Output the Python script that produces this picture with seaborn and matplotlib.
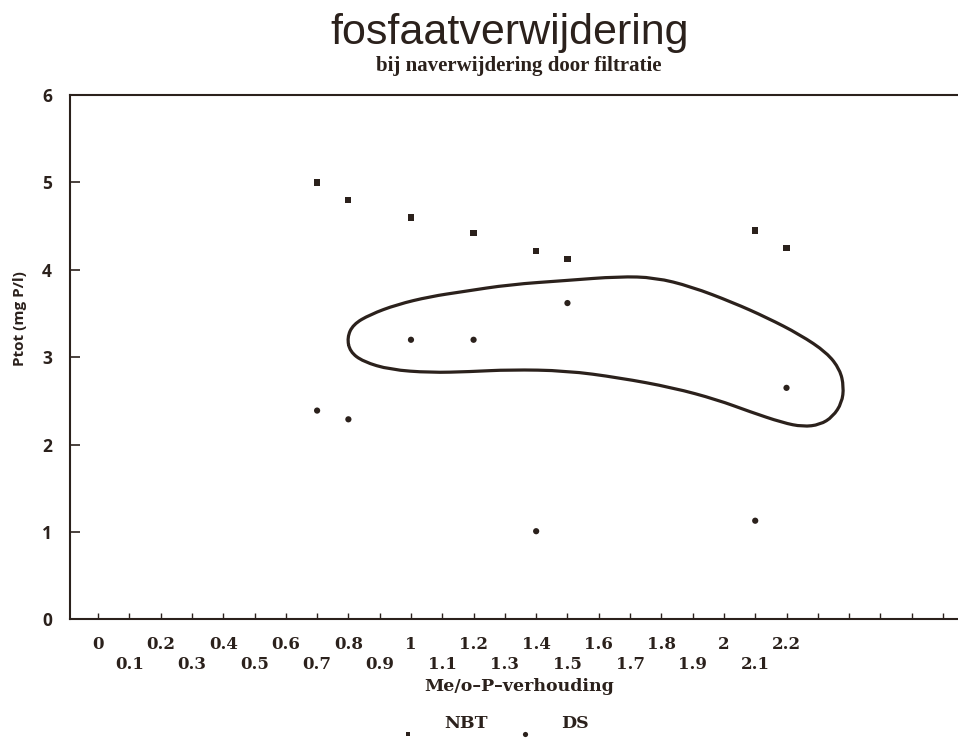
import numpy as np
import pandas as pd
import matplotlib
matplotlib.use("Agg")
import matplotlib.pyplot as plt
from matplotlib.path import Path
from matplotlib.patches import PathPatch
from matplotlib.collections import PathCollection
from matplotlib.legend_handler import HandlerPathCollection
import seaborn as sns

# Me/o-P ratio against total phosphorus after filtration
nbt_ratio = [0.7, 0.8, 1.0, 1.2, 1.4, 1.5, 2.1, 2.2]
nbt_ptot = [5.0, 4.8, 4.6, 4.42, 4.22, 4.12, 4.45, 4.25]

ds_ratio = [0.7, 0.8, 1.0, 1.2, 1.5, 2.2, 1.4, 2.1]
ds_ptot = [2.39, 2.29, 3.2, 3.2, 3.62, 2.65, 1.01, 1.13]

# hand-drawn outline around the DS cluster
outline_ratio = [0.796, 0.815, 0.869, 0.955, 1.061, 1.166, 1.316, 1.495, 1.665,
                 1.780, 1.895, 2.029, 2.137, 2.243, 2.329, 2.371, 2.383, 2.377,
                 2.348, 2.307, 2.252, 2.188, 2.083, 1.978, 1.837, 1.665, 1.495,
                 1.316, 1.188, 1.061, 0.933, 0.847, 0.805]
outline_ptot = [3.225, 3.375, 3.488, 3.603, 3.694, 3.751, 3.832, 3.878, 3.924,
                3.912, 3.809, 3.626, 3.454, 3.259, 3.053, 2.858, 2.663, 2.480,
                2.320, 2.228, 2.205, 2.251, 2.377, 2.515, 2.652, 2.766, 2.847,
                2.858, 2.835, 2.824, 2.858, 2.950, 3.064]

x_ticks = [0.0, 0.1, 0.2, 0.3, 0.4, 0.5, 0.6, 0.7, 0.8, 0.9, 1.0, 1.1, 1.2, 1.3,
           1.4, 1.5, 1.6, 1.7, 1.8, 1.9, 2.0, 2.1, 2.2, 2.3, 2.4, 2.5, 2.6, 2.7]
x_tick_labels = ["0", "\n0.1", "0.2", "\n0.3", "0.4", "\n0.5", "0.6", "\n0.7",
                 "0.8", "\n0.9", "1", "\n1.1", "1.2", "\n1.3", "1.4", "\n1.5",
                 "1.6", "\n1.7", "1.8", "\n1.9", "2", "\n2.1", "2.2",
                 "", "", "", "", ""]
y_ticks = [0, 1, 2, 3, 4, 5, 6]
y_tick_labels = ["0", "1", "2", "3", "4", "5", "6"]

series_names = ["NBT", "DS"]

ink = "#2b211c"

sns.set_style("white")
plt.rcParams["font.family"] = ["DejaVu Serif", "DejaVu Sans"]

df = pd.DataFrame({
    "ratio": nbt_ratio + ds_ratio,
    "ptot": nbt_ptot + ds_ptot,
    "serie": [series_names[0]] * len(nbt_ratio) + [series_names[1]] * len(ds_ratio),
})

fig = plt.figure(figsize=(9.58, 7.47), dpi=100, facecolor="white")
ax = fig.add_axes([0.0731, 0.1707, 0.9269, 0.7021])

sns.scatterplot(data=df, x="ratio", y="ptot", style="serie",
                markers={"NBT": "s", "DS": "o"}, color=ink, s=20,
                linewidth=0, legend=False, ax=ax)

# smooth closed outline (quadratic segments through the midpoints)
pts = np.column_stack([outline_ratio, outline_ptot])
mids = (pts + np.roll(pts, -1, axis=0)) / 2
verts = [mids[-1]]
codes = [Path.MOVETO]
for p, m in zip(pts, mids):
    verts += [p, m]
    codes += [Path.CURVE3, Path.CURVE3]
ax.add_patch(PathPatch(Path(verts, codes), fill=False, lw=2.3,
                       ec=ink, capstyle="round", joinstyle="round"))

ax.set_xlim(-0.0895, 2.748)
ax.set_ylim(0, 6)

for side in ["left", "top", "bottom"]:
    ax.spines[side].set_color(ink)
    ax.spines[side].set_linewidth(1.5)
ax.spines["right"].set_visible(False)

ax.set_xticks(x_ticks, x_tick_labels)
ax.set_yticks(y_ticks, y_tick_labels)
ax.tick_params(axis="x", direction="in", length=4, width=1.0, color=ink,
               pad=12, labelcolor=ink, bottom=True)
ax.tick_params(axis="y", direction="in", length=7, width=1.2, color=ink,
               pad=13, labelcolor=ink, left=True)
for lab in ax.get_yticklabels():
    lab.set_fontfamily("Open Sans")
    lab.set_fontweight("bold")
    lab.set_fontsize(12.5)
for lab in ax.get_xticklabels():
    lab.set_fontweight("bold")
    lab.set_fontsize(12)
    lab.set_linespacing(1.2)

ax.set_xlabel("Me/o–P–verhouding", fontsize=12.5, color=ink, fontweight="bold")
ax.xaxis.set_label_coords(0.5056, -0.112)
ax.set_ylabel("Ptot (mg P/l)", fontsize=11, color=ink,
              family="Open Sans", fontweight="bold")
ax.yaxis.set_label_coords(-0.049, 0.573)

fig.text(0.532, 0.9411, "fosfaatverwijdering", ha="center", va="baseline",
         fontsize=31, family="Liberation Sans", color=ink)
fig.text(0.542, 0.9053, "bij naverwijdering door filtratie", ha="center",
         va="baseline", fontsize=15, family="Liberation Serif",
         fontweight="bold", color=ink)

h_nbt = ax.scatter([], [], marker="s", s=12, color=ink, linewidth=0)
h_ds = ax.scatter([], [], marker="o", s=14, color=ink, linewidth=0)
fig.legend([h_nbt, h_ds], series_names, loc="center",
           bbox_to_anchor=(494 / 958, 0.031), ncol=2, frameon=False,
           prop={"family": "DejaVu Serif", "weight": "bold", "size": 12.5},
           labelcolor=ink, handlelength=1.0,
           handletextpad=1.6, columnspacing=1.6, scatterpoints=1,
           handler_map={PathCollection: HandlerPathCollection(yoffsets=[-0.5])})

fig.savefig("out.png", dpi=100, facecolor="white")
